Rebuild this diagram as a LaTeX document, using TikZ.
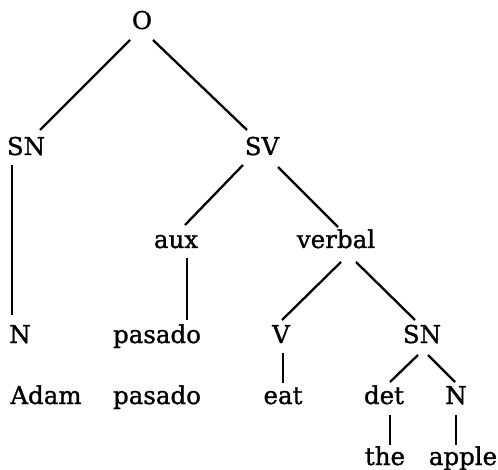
\documentclass[tikz,border=0pt]{standalone}
\usepackage{fontspec}
\setmainfont[FakeBold=1.2]{DejaVu Serif}
\begin{document}
\begin{tikzpicture}[x=1pt,y=-1pt,
  lbl/.style={anchor=base,inner sep=0pt,font=\fontsize{24.5}{28}\selectfont},
  edge/.style={line width=2.3pt}]
\useasboundingbox[fill=white] (0,0) rectangle (498,470);
\node[lbl] (O) at (142,29) {O};
\node[lbl] (SN1) at (26,155) {SN};
\node[lbl] (SV) at (262,155) {SV};
\node[lbl] (aux) at (176,248) {aux};
\node[lbl] (verbal) at (336,248) {verbal};
\node[lbl] (N1) at (20,343) {N};
\node[lbl] (pas1) at (157,343) {pasado};
\node[lbl] (V) at (281,343) {V};
\node[lbl] (SN2) at (422,343) {SN};
\node[lbl] (Adam) at (46,404) {Adam};
\node[lbl] (pas2) at (157,404) {pasado};
\node[lbl] (eat) at (283,404) {eat};
\node[lbl] (det) at (384,404) {det};
\node[lbl] (N2) at (456,404) {N};
\node[lbl] (the) at (385,465) {the};
\node[lbl] (apple) at (463,465) {apple};
\draw[edge] ([shift={(-12,11)}]O.base) -- ([shift={(14,-25)}]SN1.base);
\draw[edge] ([shift={(11,11)}]O.base) -- ([shift={(-15,-25)}]SV.base);
\draw[edge] ([shift={(-14,10)}]SN1.base) -- ([shift={(-8,-28)}]N1.base);
\draw[edge] ([shift={(-19,10)}]SV.base) -- ([shift={(9,-23)}]aux.base);
\draw[edge] ([shift={(16,12)}]SV.base) -- ([shift={(2,-21)}]verbal.base);
\draw[edge] ([shift={(11,10)}]aux.base) -- ([shift={(30,-23)}]pas1.base);
\draw[edge] ([shift={(5,14)}]verbal.base) -- ([shift={(1,-23)}]V.base);
\draw[edge] ([shift={(20,14)}]verbal.base) -- ([shift={(-7,-23)}]SN2.base);
\draw[edge] ([shift={(2,10)}]V.base) -- ([shift={(0,-21)}]eat.base);
\draw[edge] ([shift={(-4,12)}]SN2.base) -- ([shift={(6,-22)}]det.base);
\draw[edge] ([shift={(6,12)}]SN2.base) -- ([shift={(-1,-22)}]N2.base);
\draw[edge] ([shift={(6,11)}]det.base) -- ([shift={(5,-20)}]the.base);
\draw[edge] ([shift={(0,11)}]N2.base) -- ([shift={(-7,-20)}]apple.base);
\end{tikzpicture}
\end{document}
